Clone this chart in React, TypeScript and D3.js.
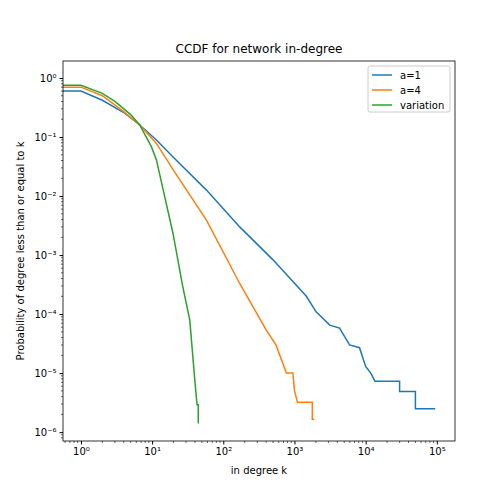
import React, { useEffect, useRef } from 'react';
import * as d3 from 'd3';

const seriesNames = ['a=1', 'a=4', 'variation'];
const colors = ['#1f77b4', '#ff7f0e', '#2ca02c'];

const a1K = [0.56, 1, 2, 4, 6.7, 11.5, 19.7, 58, 170, 500, 1470, 2000, 3130, 4300, 5940, 8200, 10000, 11800, 13500, 30000, 30000, 50000, 50000, 95000];
const a1P = [0.6, 0.6, 0.42, 0.26, 0.16, 0.089, 0.046, 0.0126, 0.003, 0.00083, 0.0002, 0.00011, 0.000065, 0.000058, 0.00003, 0.000027, 0.000013, 0.00001, 0.0000073, 0.0000073, 0.0000049, 0.0000049, 0.0000025, 0.0000025];

const a4K = [0.56, 1, 2, 4, 6.7, 11.5, 19.7, 58, 170, 400, 550, 770, 950, 1000, 1100, 1780, 1780, 1900];
const a4P = [0.7, 0.7, 0.5, 0.27, 0.16, 0.078, 0.028, 0.0039, 0.00033, 0.000054, 0.00003, 0.00001, 0.00001, 0.0000051, 0.0000032, 0.0000032, 0.00000166, 0.00000166];

const varK = [0.56, 1, 2, 3, 5, 6.7, 9.8, 11.5, 19.7, 27, 33.8, 39.8, 42.8, 44.5, 44.5];
const varP = [0.75, 0.75, 0.55, 0.4, 0.24, 0.16, 0.068, 0.041, 0.0023, 0.00029, 0.00008, 0.0000076, 0.0000029, 0.0000029, 0.0000014];

const xTicks = [1, 10, 100, 1000, 10000, 100000];
const yTicks = [1, 0.1, 0.01, 0.001, 0.0001, 0.00001, 0.000001];
const sup = (n: number) => String(n).split('').map(c => ({ '-': '⁻', '0': '⁰', '1': '¹', '2': '²', '3': '³', '4': '⁴', '5': '⁵', '6': '⁶' } as any)[c]).join('');

export default function App() {
  const ref = useRef<SVGSVGElement | null>(null);
  useEffect(() => {
    const svg = d3.select(ref.current);
    svg.selectAll('*').remove();
    const m = { left: 63, right: 455, top: 61, bottom: 441 };
    const x = d3.scaleLog().domain([0.56, 1.8e5]).range([m.left, m.right]);
    const y = d3.scaleLog().domain([10 ** -6.15, 1.94]).range([m.bottom, m.top]);
    svg.attr('font-family', 'DejaVu Sans, sans-serif');

    const data = [[a1K, a1P], [a4K, a4P], [varK, varP]];
    const line = d3.line<[number, number]>().x(d => x(d[0])).y(d => y(d[1]));
    const g = svg.append('g');
    data.forEach(([ks, ps], i) => {
      g.append('path')
        .attr('d', line(ks.map((k, j) => [k, ps[j]] as [number, number])))
        .attr('fill', 'none').attr('stroke', colors[i]).attr('stroke-width', 1.5);
    });

    const fmt = (d: any) => `10${sup(Math.round(Math.log10(d)))}`;
    const xa = svg.append('g').attr('transform', `translate(0,${m.bottom})`)
      .call(d3.axisBottom(x).tickValues(xTicks).tickFormat(fmt as any).tickSize(3.5));
    const minorX: number[] = [];
    for (let e = -1; e <= 5; e++) for (let k = 2; k <= 9; k++) { const v = k * 10 ** e; if (v > 0.56 && v < 1.8e5) minorX.push(v); }
    svg.append('g').selectAll('line').data(minorX).join('line')
      .attr('x1', d => x(d)).attr('x2', d => x(d)).attr('y1', m.bottom).attr('y2', m.bottom + 2).attr('stroke', 'black').attr('stroke-width', 0.6);
    const minorY: number[] = [];
    for (let e = -7; e <= 0; e++) for (let k = 2; k <= 9; k++) { const v = k * 10 ** e; if (v > 10 ** -6.15 && v < 1.94) minorY.push(v); }
    svg.append('g').selectAll('line').data(minorY).join('line')
      .attr('y1', d => y(d)).attr('y2', d => y(d)).attr('x1', m.left).attr('x2', m.left - 2).attr('stroke', 'black').attr('stroke-width', 0.6);
    const ya = svg.append('g').attr('transform', `translate(${m.left},0)`)
      .call(d3.axisLeft(y).tickValues(yTicks).tickFormat(fmt as any).tickSize(3.5));
    [xa, ya].forEach(a => { a.select('.domain').remove(); a.selectAll('text').attr('font-size', 10).attr('font-family', 'DejaVu Sans'); });
    svg.append('rect').attr('x', m.left).attr('y', m.top).attr('width', m.right - m.left).attr('height', m.bottom - m.top)
      .attr('fill', 'none').attr('stroke', 'black').attr('stroke-width', 0.8);

    svg.append('text').attr('x', (m.left + m.right) / 2).attr('y', 53).attr('text-anchor', 'middle').attr('font-size', 12).text('CCDF for network in-degree');
    svg.append('text').attr('x', (m.left + m.right) / 2).attr('y', 474).attr('text-anchor', 'middle').attr('font-size', 10).text('in degree k');
    svg.append('text').attr('transform', `translate(24,${(m.top + m.bottom) / 2}) rotate(-90)`).attr('text-anchor', 'middle').attr('font-size', 10).text('Probability of degree less than or equal to k');

    const lg = svg.append('g').attr('transform', 'translate(368,66)');
    lg.append('rect').attr('width', 82).attr('height', 46).attr('rx', 2).attr('fill', 'white').attr('stroke', '#ccc');
    seriesNames.forEach((n, i) => {
      lg.append('line').attr('x1', 4).attr('x2', 24).attr('y1', 9 + i * 15).attr('y2', 9 + i * 15).attr('stroke', colors[i]).attr('stroke-width', 1.5);
      lg.append('text').attr('x', 32).attr('y', 12.5 + i * 15).attr('font-size', 10).text(n);
    });
  }, []);
  return <svg ref={ref} width={504} height={504} style={{ position: 'absolute', left: 0, top: 0 }} />;
}
